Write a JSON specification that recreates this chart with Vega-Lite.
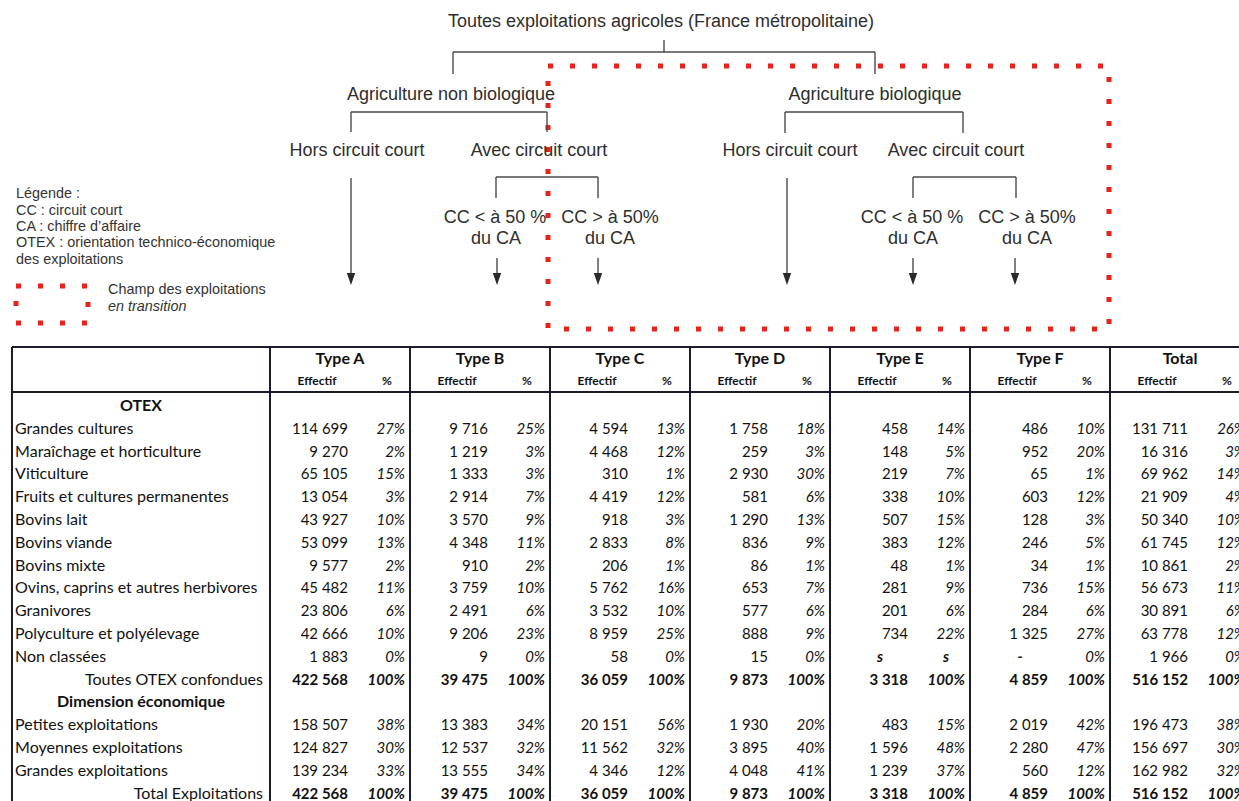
{
  "$schema": "https://vega.github.io/schema/vega-lite/v6.json",
  "padding": 0,
  "spacing": 0,
  "background": "white",
  "config": {
    "view": {"stroke": null},
    "concat": {"spacing": 0},
    "locale": {"number": {"decimal": ",", "thousands": " ", "grouping": [3], "currency": ["", " €"]}}
  },
  "datasets": {
    "diagram": [
      {"kind": "node", "x": 661, "y": 22, "text": "Toutes exploitations agricoles (France métropolitaine)"},
      {"kind": "node", "x": 451, "y": 95, "text": "Agriculture non biologique"},
      {"kind": "node", "x": 875, "y": 95, "text": "Agriculture biologique"},
      {"kind": "node", "x": 357, "y": 151, "text": "Hors circuit court"},
      {"kind": "node", "x": 539, "y": 151, "text": "Avec circuit court"},
      {"kind": "node", "x": 790, "y": 151, "text": "Hors circuit court"},
      {"kind": "node", "x": 956, "y": 151, "text": "Avec circuit court"},
      {"kind": "node", "x": 495, "y": 218, "text": "CC < à 50 %"},
      {"kind": "node", "x": 496, "y": 239, "text": "du CA"},
      {"kind": "node", "x": 610, "y": 218, "text": "CC > à 50%"},
      {"kind": "node", "x": 610, "y": 239, "text": "du CA"},
      {"kind": "node", "x": 912, "y": 218, "text": "CC < à 50 %"},
      {"kind": "node", "x": 913, "y": 239, "text": "du CA"},
      {"kind": "node", "x": 1027, "y": 218, "text": "CC > à 50%"},
      {"kind": "node", "x": 1027, "y": 239, "text": "du CA"},
      {"kind": "legend", "x": 16, "y": 194, "text": "Légende :"},
      {"kind": "legend", "x": 16, "y": 211, "text": "CC : circuit court"},
      {"kind": "legend", "x": 16, "y": 227, "text": "CA : chiffre d’affaire"},
      {"kind": "legend", "x": 16, "y": 243, "text": "OTEX : orientation technico-économique"},
      {"kind": "legend", "x": 16, "y": 260, "text": "des exploitations"},
      {"kind": "legend", "x": 108, "y": 290, "text": "Champ des exploitations"},
      {"kind": "legendItalic", "x": 108, "y": 307, "text": "en transition"},
      {"kind": "line", "x": 453, "y": 52, "x2": 875, "y2": 52},
      {"kind": "line", "x": 453, "y": 52, "x2": 453, "y2": 74},
      {"kind": "line", "x": 875, "y": 52, "x2": 875, "y2": 74},
      {"kind": "line", "x": 664, "y": 40, "x2": 664, "y2": 52},
      {"kind": "line", "x": 351, "y": 112, "x2": 547, "y2": 112},
      {"kind": "line", "x": 351, "y": 112, "x2": 351, "y2": 132},
      {"kind": "line", "x": 547, "y": 112, "x2": 547, "y2": 132},
      {"kind": "line", "x": 785, "y": 112, "x2": 963, "y2": 112},
      {"kind": "line", "x": 785, "y": 112, "x2": 785, "y2": 133},
      {"kind": "line", "x": 963, "y": 112, "x2": 963, "y2": 133},
      {"kind": "line", "x": 496, "y": 177, "x2": 598, "y2": 177},
      {"kind": "line", "x": 496, "y": 177, "x2": 496, "y2": 198},
      {"kind": "line", "x": 598, "y": 177, "x2": 598, "y2": 198},
      {"kind": "line", "x": 913, "y": 177, "x2": 1016, "y2": 177},
      {"kind": "line", "x": 913, "y": 177, "x2": 913, "y2": 198},
      {"kind": "line", "x": 1016, "y": 177, "x2": 1016, "y2": 198},
      {"kind": "line", "x": 351, "y": 178, "x2": 351, "y2": 280},
      {"kind": "line", "x": 497, "y": 258, "x2": 497, "y2": 280},
      {"kind": "line", "x": 598, "y": 258, "x2": 598, "y2": 280},
      {"kind": "line", "x": 787, "y": 178, "x2": 787, "y2": 280},
      {"kind": "line", "x": 913, "y": 258, "x2": 913, "y2": 280},
      {"kind": "line", "x": 1015, "y": 258, "x2": 1015, "y2": 280},
      {"kind": "arrow", "x": 351, "y": 285},
      {"kind": "arrow", "x": 497, "y": 285},
      {"kind": "arrow", "x": 598, "y": 285},
      {"kind": "arrow", "x": 787, "y": 285},
      {"kind": "arrow", "x": 913, "y": 285},
      {"kind": "arrow", "x": 1015, "y": 285},
      {"kind": "zone", "x": 548, "y": 66, "x2": 1109, "y2": 329},
      {"kind": "zone", "x": 16, "y": 286, "x2": 88, "y2": 323}
    ],
    "groups": [
      {"g": 1, "name": "Type A"}, {"g": 2, "name": "Type B"}, {"g": 3, "name": "Type C"},
      {"g": 4, "name": "Type D"}, {"g": 5, "name": "Type E"}, {"g": 6, "name": "Type F"},
      {"g": 7, "name": "Total"}
    ],
    "rows": [
      {"r": 0, "label": "OTEX", "kind": "section"},
      {"r": 1, "label": "Grandes cultures", "kind": "item"},
      {"r": 2, "label": "Maraîchage et horticulture", "kind": "item"},
      {"r": 3, "label": "Viticulture", "kind": "item"},
      {"r": 4, "label": "Fruits et cultures permanentes", "kind": "item"},
      {"r": 5, "label": "Bovins lait", "kind": "item"},
      {"r": 6, "label": "Bovins viande", "kind": "item"},
      {"r": 7, "label": "Bovins mixte", "kind": "item"},
      {"r": 8, "label": "Ovins, caprins et autres herbivores", "kind": "item"},
      {"r": 9, "label": "Granivores", "kind": "item"},
      {"r": 10, "label": "Polyculture et polyélevage", "kind": "item"},
      {"r": 11, "label": "Non classées", "kind": "item"},
      {"r": 12, "label": "Toutes OTEX confondues", "kind": "total"},
      {"r": 13, "label": "Dimension économique", "kind": "section"},
      {"r": 14, "label": "Petites exploitations", "kind": "item"},
      {"r": 15, "label": "Moyennes exploitations", "kind": "item"},
      {"r": 16, "label": "Grandes exploitations", "kind": "item"},
      {"r": 17, "label": "Total Exploitations", "kind": "total"}
    ],
    "cells": [
      {"r": 1, "g": 1, "e": 114699, "p": 0.27}, {"r": 1, "g": 2, "e": 9716, "p": 0.25}, {"r": 1, "g": 3, "e": 4594, "p": 0.13}, {"r": 1, "g": 4, "e": 1758, "p": 0.18}, {"r": 1, "g": 5, "e": 458, "p": 0.14}, {"r": 1, "g": 6, "e": 486, "p": 0.10}, {"r": 1, "g": 7, "e": 131711, "p": 0.26},
      {"r": 2, "g": 1, "e": 9270, "p": 0.02}, {"r": 2, "g": 2, "e": 1219, "p": 0.03}, {"r": 2, "g": 3, "e": 4468, "p": 0.12}, {"r": 2, "g": 4, "e": 259, "p": 0.03}, {"r": 2, "g": 5, "e": 148, "p": 0.05}, {"r": 2, "g": 6, "e": 952, "p": 0.20}, {"r": 2, "g": 7, "e": 16316, "p": 0.03},
      {"r": 3, "g": 1, "e": 65105, "p": 0.15}, {"r": 3, "g": 2, "e": 1333, "p": 0.03}, {"r": 3, "g": 3, "e": 310, "p": 0.01}, {"r": 3, "g": 4, "e": 2930, "p": 0.30}, {"r": 3, "g": 5, "e": 219, "p": 0.07}, {"r": 3, "g": 6, "e": 65, "p": 0.01}, {"r": 3, "g": 7, "e": 69962, "p": 0.14},
      {"r": 4, "g": 1, "e": 13054, "p": 0.03}, {"r": 4, "g": 2, "e": 2914, "p": 0.07}, {"r": 4, "g": 3, "e": 4419, "p": 0.12}, {"r": 4, "g": 4, "e": 581, "p": 0.06}, {"r": 4, "g": 5, "e": 338, "p": 0.10}, {"r": 4, "g": 6, "e": 603, "p": 0.12}, {"r": 4, "g": 7, "e": 21909, "p": 0.04},
      {"r": 5, "g": 1, "e": 43927, "p": 0.10}, {"r": 5, "g": 2, "e": 3570, "p": 0.09}, {"r": 5, "g": 3, "e": 918, "p": 0.03}, {"r": 5, "g": 4, "e": 1290, "p": 0.13}, {"r": 5, "g": 5, "e": 507, "p": 0.15}, {"r": 5, "g": 6, "e": 128, "p": 0.03}, {"r": 5, "g": 7, "e": 50340, "p": 0.10},
      {"r": 6, "g": 1, "e": 53099, "p": 0.13}, {"r": 6, "g": 2, "e": 4348, "p": 0.11}, {"r": 6, "g": 3, "e": 2833, "p": 0.08}, {"r": 6, "g": 4, "e": 836, "p": 0.09}, {"r": 6, "g": 5, "e": 383, "p": 0.12}, {"r": 6, "g": 6, "e": 246, "p": 0.05}, {"r": 6, "g": 7, "e": 61745, "p": 0.12},
      {"r": 7, "g": 1, "e": 9577, "p": 0.02}, {"r": 7, "g": 2, "e": 910, "p": 0.02}, {"r": 7, "g": 3, "e": 206, "p": 0.01}, {"r": 7, "g": 4, "e": 86, "p": 0.01}, {"r": 7, "g": 5, "e": 48, "p": 0.01}, {"r": 7, "g": 6, "e": 34, "p": 0.01}, {"r": 7, "g": 7, "e": 10861, "p": 0.02},
      {"r": 8, "g": 1, "e": 45482, "p": 0.11}, {"r": 8, "g": 2, "e": 3759, "p": 0.10}, {"r": 8, "g": 3, "e": 5762, "p": 0.16}, {"r": 8, "g": 4, "e": 653, "p": 0.07}, {"r": 8, "g": 5, "e": 281, "p": 0.09}, {"r": 8, "g": 6, "e": 736, "p": 0.15}, {"r": 8, "g": 7, "e": 56673, "p": 0.11},
      {"r": 9, "g": 1, "e": 23806, "p": 0.06}, {"r": 9, "g": 2, "e": 2491, "p": 0.06}, {"r": 9, "g": 3, "e": 3532, "p": 0.10}, {"r": 9, "g": 4, "e": 577, "p": 0.06}, {"r": 9, "g": 5, "e": 201, "p": 0.06}, {"r": 9, "g": 6, "e": 284, "p": 0.06}, {"r": 9, "g": 7, "e": 30891, "p": 0.06},
      {"r": 10, "g": 1, "e": 42666, "p": 0.10}, {"r": 10, "g": 2, "e": 9206, "p": 0.23}, {"r": 10, "g": 3, "e": 8959, "p": 0.25}, {"r": 10, "g": 4, "e": 888, "p": 0.09}, {"r": 10, "g": 5, "e": 734, "p": 0.22}, {"r": 10, "g": 6, "e": 1325, "p": 0.27}, {"r": 10, "g": 7, "e": 63778, "p": 0.12},
      {"r": 11, "g": 1, "e": 1883, "p": 0}, {"r": 11, "g": 2, "e": 9, "p": 0}, {"r": 11, "g": 3, "e": 58, "p": 0}, {"r": 11, "g": 4, "e": 15, "p": 0}, {"r": 11, "g": 5, "e": null, "p": null, "flag": "s"}, {"r": 11, "g": 6, "e": null, "p": 0, "flag": "-"}, {"r": 11, "g": 7, "e": 1966, "p": 0},
      {"r": 12, "g": 1, "e": 422568, "p": 1}, {"r": 12, "g": 2, "e": 39475, "p": 1}, {"r": 12, "g": 3, "e": 36059, "p": 1}, {"r": 12, "g": 4, "e": 9873, "p": 1}, {"r": 12, "g": 5, "e": 3318, "p": 1}, {"r": 12, "g": 6, "e": 4859, "p": 1}, {"r": 12, "g": 7, "e": 516152, "p": 1},
      {"r": 14, "g": 1, "e": 158507, "p": 0.38}, {"r": 14, "g": 2, "e": 13383, "p": 0.34}, {"r": 14, "g": 3, "e": 20151, "p": 0.56}, {"r": 14, "g": 4, "e": 1930, "p": 0.20}, {"r": 14, "g": 5, "e": 483, "p": 0.15}, {"r": 14, "g": 6, "e": 2019, "p": 0.42}, {"r": 14, "g": 7, "e": 196473, "p": 0.38},
      {"r": 15, "g": 1, "e": 124827, "p": 0.30}, {"r": 15, "g": 2, "e": 12537, "p": 0.32}, {"r": 15, "g": 3, "e": 11562, "p": 0.32}, {"r": 15, "g": 4, "e": 3895, "p": 0.40}, {"r": 15, "g": 5, "e": 1596, "p": 0.48}, {"r": 15, "g": 6, "e": 2280, "p": 0.47}, {"r": 15, "g": 7, "e": 156697, "p": 0.30},
      {"r": 16, "g": 1, "e": 139234, "p": 0.33}, {"r": 16, "g": 2, "e": 13555, "p": 0.34}, {"r": 16, "g": 3, "e": 4346, "p": 0.12}, {"r": 16, "g": 4, "e": 4048, "p": 0.41}, {"r": 16, "g": 5, "e": 1239, "p": 0.37}, {"r": 16, "g": 6, "e": 560, "p": 0.12}, {"r": 16, "g": 7, "e": 162982, "p": 0.32},
      {"r": 17, "g": 1, "e": 422568, "p": 1}, {"r": 17, "g": 2, "e": 39475, "p": 1}, {"r": 17, "g": 3, "e": 36059, "p": 1}, {"r": 17, "g": 4, "e": 9873, "p": 1}, {"r": 17, "g": 5, "e": 3318, "p": 1}, {"r": 17, "g": 6, "e": 4859, "p": 1}, {"r": 17, "g": 7, "e": 516152, "p": 1}
    ]
  },
  "vconcat": [
    {
      "width": 1239,
      "height": 340,
      "data": {"name": "diagram"},
      "encoding": {
        "x": {"field": "x", "type": "quantitative", "scale": {"domain": [0, 1239], "nice": false, "zero": false}, "axis": null},
        "y": {"field": "y", "type": "quantitative", "scale": {"domain": [0, 340], "nice": false, "zero": false, "reverse": true}, "axis": null}
      },
      "layer": [
        {
          "transform": [{"filter": "datum.kind == 'zone'"}],
          "mark": {"type": "rect", "filled": false, "stroke": "#e8231c", "strokeWidth": 5, "strokeDash": [5, 17], "strokeCap": "butt"},
          "encoding": {"x2": {"field": "x2"}, "y2": {"field": "y2"}}
        },
        {
          "transform": [{"filter": "datum.kind == 'line'"}],
          "mark": {"type": "rule", "color": "#4a4a4a", "strokeWidth": 1.4},
          "encoding": {"x2": {"field": "x2"}, "y2": {"field": "y2"}}
        },
        {
          "transform": [{"filter": "datum.kind == 'arrow'"}],
          "mark": {"type": "point", "shape": "M-0.7,-2L0.7,-2L0,0Z", "size": 144, "filled": true, "color": "#2a2a2a", "opacity": 1, "strokeWidth": 0}
        },
        {
          "transform": [{"filter": "datum.kind == 'node'"}],
          "mark": {"type": "text", "font": "Liberation Sans", "fontSize": 18, "color": "#2e2e2e", "align": "center", "baseline": "middle"},
          "encoding": {"text": {"field": "text"}}
        },
        {
          "transform": [{"filter": "datum.kind == 'legend'"}],
          "mark": {"type": "text", "font": "Liberation Sans", "fontSize": 14.4, "color": "#333333", "align": "left", "baseline": "middle"},
          "encoding": {"text": {"field": "text"}}
        },
        {
          "transform": [{"filter": "datum.kind == 'legendItalic'"}],
          "mark": {"type": "text", "font": "Liberation Sans", "fontSize": 14.4, "fontStyle": "italic", "color": "#333333", "align": "left", "baseline": "middle"},
          "encoding": {"text": {"field": "text"}}
        }
      ]
    },
    {
      "width": 1239,
      "height": 461,
      "layer": [
        {
          "data": {"values": [{"top": -2.588, "sub": -0.614}]},
          "mark": {"type": "rule", "color": "#1b1b2b", "strokeWidth": 2, "clip": true},
          "encoding": {
            "x": {"datum": -0.843, "type": "quantitative", "scale": {"domain": [-0.9286, 7.9214], "nice": false, "zero": false}, "axis": null},
            "x2": {"datum": 7.9214},
            "y": {"field": "top", "type": "quantitative", "scale": {"domain": [-2.895, 17.325], "nice": false, "zero": false, "reverse": true}, "axis": null}
          }
        },
        {
          "data": {"values": [{"top": -2.588, "sub": -0.614}]},
          "mark": {"type": "rule", "color": "#1b1b2b", "strokeWidth": 2, "clip": true},
          "encoding": {
            "x": {"datum": -0.843, "type": "quantitative", "scale": {"domain": [-0.9286, 7.9214], "nice": false, "zero": false}, "axis": null},
            "x2": {"datum": 7.9214},
            "y": {"field": "sub", "type": "quantitative", "scale": {"domain": [-2.895, 17.325], "nice": false, "zero": false, "reverse": true}, "axis": null}
          }
        },
        {
          "data": {"values": [{"left": -0.843}]},
          "mark": {"type": "rule", "color": "#1b1b2b", "strokeWidth": 2, "clip": true},
          "encoding": {
            "x": {"field": "left", "type": "quantitative", "scale": {"domain": [-0.9286, 7.9214], "nice": false, "zero": false}, "axis": null},
            "y": {"datum": -2.588, "type": "quantitative", "scale": {"domain": [-2.895, 17.325], "nice": false, "zero": false, "reverse": true}, "axis": null},
            "y2": {"datum": 17.325}
          }
        },
        {
          "data": {"name": "groups"},
          "mark": {"type": "rule", "color": "#1b1b2b", "strokeWidth": 2, "clip": true},
          "encoding": {
            "x": {"field": "g", "type": "quantitative", "scale": {"domain": [-0.9286, 7.9214], "nice": false, "zero": false}, "axis": null},
            "y": {"datum": -2.588, "type": "quantitative", "scale": {"domain": [-2.895, 17.325], "nice": false, "zero": false, "reverse": true}, "axis": null},
            "y2": {"datum": 17.325}
          }
        },
        {
          "data": {"name": "groups"},
          "mark": {"type": "text", "font": "Lato", "fontSize": 16, "fontWeight": "bold", "color": "#111111", "align": "center", "baseline": "middle", "dx": 70, "dy": -1.5, "clip": true},
          "encoding": {
            "x": {"field": "g", "type": "quantitative", "scale": {"domain": [-0.9286, 7.9214], "nice": false, "zero": false}, "axis": null},
            "y": {"datum": -2, "type": "quantitative", "scale": {"domain": [-2.895, 17.325], "nice": false, "zero": false, "reverse": true}, "axis": null},
            "text": {"field": "name"}
          }
        },
        {
          "data": {"name": "groups"},
          "mark": {"type": "text", "font": "Lato", "fontSize": 12, "fontWeight": "bold", "color": "#111111", "align": "center", "baseline": "middle", "dx": 47, "dy": -2, "clip": true},
          "encoding": {
            "x": {"field": "g", "type": "quantitative", "scale": {"domain": [-0.9286, 7.9214], "nice": false, "zero": false}, "axis": null},
            "y": {"datum": -1, "type": "quantitative", "scale": {"domain": [-2.895, 17.325], "nice": false, "zero": false, "reverse": true}, "axis": null},
            "text": {"value": "Effectif"}
          }
        },
        {
          "data": {"name": "groups"},
          "mark": {"type": "text", "font": "Lato", "fontSize": 12, "fontWeight": "bold", "color": "#111111", "align": "center", "baseline": "middle", "dx": 117, "dy": -2, "clip": true},
          "encoding": {
            "x": {"field": "g", "type": "quantitative", "scale": {"domain": [-0.9286, 7.9214], "nice": false, "zero": false}, "axis": null},
            "y": {"datum": -1, "type": "quantitative", "scale": {"domain": [-2.895, 17.325], "nice": false, "zero": false, "reverse": true}, "axis": null},
            "text": {"value": "%"}
          }
        },
        {
          "data": {"name": "rows"},
          "transform": [{"filter": "datum.kind == 'item'"}],
          "mark": {"type": "text", "font": "Lato", "fontSize": 16, "color": "#111111", "align": "left", "baseline": "middle", "clip": true},
          "encoding": {
            "x": {"datum": -0.821, "type": "quantitative", "scale": {"domain": [-0.9286, 7.9214], "nice": false, "zero": false}, "axis": null},
            "y": {"field": "r", "type": "quantitative", "scale": {"domain": [-2.895, 17.325], "nice": false, "zero": false, "reverse": true}, "axis": null},
            "text": {"field": "label"}
          }
        },
        {
          "data": {"name": "rows"},
          "transform": [{"filter": "datum.kind == 'section'"}],
          "mark": {"type": "text", "font": "Lato", "fontSize": 16, "fontWeight": "bold", "color": "#111111", "align": "center", "baseline": "middle", "clip": true},
          "encoding": {
            "x": {"datum": 0.0786, "type": "quantitative", "scale": {"domain": [-0.9286, 7.9214], "nice": false, "zero": false}, "axis": null},
            "y": {"field": "r", "type": "quantitative", "scale": {"domain": [-2.895, 17.325], "nice": false, "zero": false, "reverse": true}, "axis": null},
            "text": {"field": "label"}
          }
        },
        {
          "data": {"name": "rows"},
          "transform": [{"filter": "datum.kind == 'total'"}],
          "mark": {"type": "text", "font": "Lato", "fontSize": 16, "color": "#111111", "align": "right", "baseline": "middle", "clip": true},
          "encoding": {
            "x": {"datum": 0.95, "type": "quantitative", "scale": {"domain": [-0.9286, 7.9214], "nice": false, "zero": false}, "axis": null},
            "y": {"field": "r", "type": "quantitative", "scale": {"domain": [-2.895, 17.325], "nice": false, "zero": false, "reverse": true}, "axis": null},
            "text": {"field": "label"}
          }
        },
        {
          "data": {"name": "cells"},
          "transform": [{"filter": "isValid(datum.e) && datum.r != 12 && datum.r != 17"}],
          "mark": {"type": "text", "font": "Lato", "fontSize": 15, "color": "#111111", "align": "right", "baseline": "middle", "dx": 78, "clip": true},
          "encoding": {
            "x": {"field": "g", "type": "quantitative", "scale": {"domain": [-0.9286, 7.9214], "nice": false, "zero": false}, "axis": null},
            "y": {"field": "r", "type": "quantitative", "scale": {"domain": [-2.895, 17.325], "nice": false, "zero": false, "reverse": true}, "axis": null},
            "text": {"field": "e", "type": "quantitative", "format": ",d"}
          }
        },
        {
          "data": {"name": "cells"},
          "transform": [{"filter": "isValid(datum.e) && (datum.r == 12 || datum.r == 17)"}],
          "mark": {"type": "text", "font": "Lato", "fontSize": 15, "fontWeight": "bold", "color": "#111111", "align": "right", "baseline": "middle", "dx": 78, "clip": true},
          "encoding": {
            "x": {"field": "g", "type": "quantitative", "scale": {"domain": [-0.9286, 7.9214], "nice": false, "zero": false}, "axis": null},
            "y": {"field": "r", "type": "quantitative", "scale": {"domain": [-2.895, 17.325], "nice": false, "zero": false, "reverse": true}, "axis": null},
            "text": {"field": "e", "type": "quantitative", "format": ",d"}
          }
        },
        {
          "data": {"name": "cells"},
          "transform": [{"filter": "isValid(datum.p) && datum.r != 12 && datum.r != 17"}],
          "mark": {"type": "text", "font": "Lato", "fontSize": 15, "fontStyle": "italic", "color": "#111111", "align": "right", "baseline": "middle", "dx": 135, "clip": true},
          "encoding": {
            "x": {"field": "g", "type": "quantitative", "scale": {"domain": [-0.9286, 7.9214], "nice": false, "zero": false}, "axis": null},
            "y": {"field": "r", "type": "quantitative", "scale": {"domain": [-2.895, 17.325], "nice": false, "zero": false, "reverse": true}, "axis": null},
            "text": {"field": "p", "type": "quantitative", "format": ".0%"}
          }
        },
        {
          "data": {"name": "cells"},
          "transform": [{"filter": "isValid(datum.p) && (datum.r == 12 || datum.r == 17)"}],
          "mark": {"type": "text", "font": "Lato", "fontSize": 15, "fontWeight": "bold", "fontStyle": "italic", "color": "#111111", "align": "right", "baseline": "middle", "dx": 135, "clip": true},
          "encoding": {
            "x": {"field": "g", "type": "quantitative", "scale": {"domain": [-0.9286, 7.9214], "nice": false, "zero": false}, "axis": null},
            "y": {"field": "r", "type": "quantitative", "scale": {"domain": [-2.895, 17.325], "nice": false, "zero": false, "reverse": true}, "axis": null},
            "text": {"field": "p", "type": "quantitative", "format": ".0%"}
          }
        },
        {
          "data": {"name": "cells"},
          "transform": [{"filter": "isValid(datum.flag)"}],
          "mark": {"type": "text", "font": "Lato", "fontSize": 15, "fontStyle": "italic", "fontWeight": "bold", "color": "#111111", "align": "center", "baseline": "middle", "dx": 50, "clip": true},
          "encoding": {
            "x": {"field": "g", "type": "quantitative", "scale": {"domain": [-0.9286, 7.9214], "nice": false, "zero": false}, "axis": null},
            "y": {"field": "r", "type": "quantitative", "scale": {"domain": [-2.895, 17.325], "nice": false, "zero": false, "reverse": true}, "axis": null},
            "text": {"field": "flag"}
          }
        },
        {
          "data": {"name": "cells"},
          "transform": [{"filter": "isValid(datum.flag) && !isValid(datum.p)"}],
          "mark": {"type": "text", "font": "Lato", "fontSize": 15, "fontStyle": "italic", "fontWeight": "bold", "color": "#111111", "align": "center", "baseline": "middle", "dx": 116, "clip": true},
          "encoding": {
            "x": {"field": "g", "type": "quantitative", "scale": {"domain": [-0.9286, 7.9214], "nice": false, "zero": false}, "axis": null},
            "y": {"field": "r", "type": "quantitative", "scale": {"domain": [-2.895, 17.325], "nice": false, "zero": false, "reverse": true}, "axis": null},
            "text": {"field": "flag"}
          }
        }
      ]
    }
  ]
}
